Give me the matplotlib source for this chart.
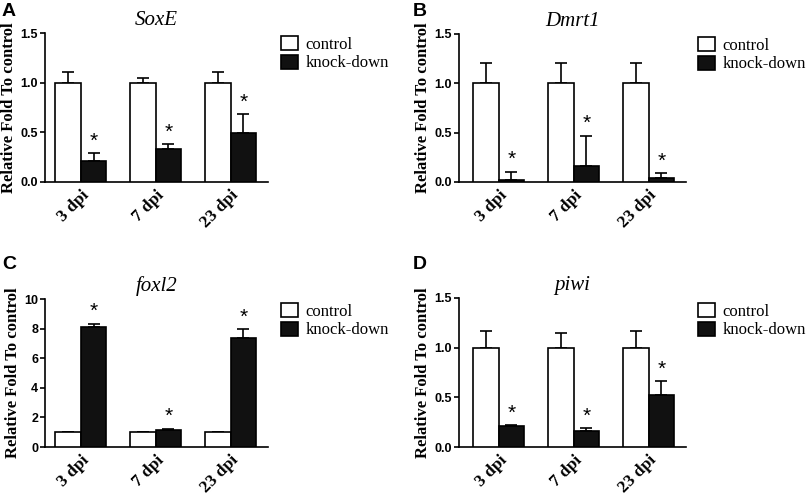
import numpy as np
import matplotlib
matplotlib.use("Agg")
import matplotlib.pyplot as plt

#------------------------------------
# Data
#------------------------------------

days = ["3 dpi", "7 dpi", "23 dpi"]
series = ["control", "knock-down"]

soxe_ctrl = [1.0, 1.0, 1.0]
soxe_ctrl_err = [0.11, 0.05, 0.11]
soxe_kd = [0.21, 0.33, 0.49]
soxe_kd_err = [0.08, 0.05, 0.19]

dmrt1_ctrl = [1.0, 1.0, 1.0]
dmrt1_ctrl_err = [0.21, 0.21, 0.21]
dmrt1_kd = [0.02, 0.16, 0.045]
dmrt1_kd_err = [0.085, 0.31, 0.045]

foxl2_ctrl = [1.0, 1.0, 1.0]
foxl2_ctrl_err = [0.03, 0.03, 0.03]
foxl2_kd = [8.08, 1.15, 7.38]
foxl2_kd_err = [0.25, 0.06, 0.58]

piwi_ctrl = [1.0, 1.0, 1.0]
piwi_ctrl_err = [0.17, 0.15, 0.17]
piwi_kd = [0.21, 0.165, 0.52]
piwi_kd_err = [0.01, 0.025, 0.14]

#------------------------------------
# Layout
#------------------------------------

W, H = 809, 496
serif = "Liberation Serif"
sans = "Liberation Sans"

panels = [
    # letter, gene, ctrl, ctrl_err, kd, kd_err, ymax, yticks, axes box (px), xlo, legend (px), letter (px)
    ("A", "SoxE", soxe_ctrl, soxe_ctrl_err, soxe_kd, soxe_kd_err, 1.5,
     [0.0, 0.5, 1.0, 1.5], (45, 268, 33, 182), -0.48, (281, 36), (2, 3)),
    ("B", "Dmrt1", dmrt1_ctrl, dmrt1_ctrl_err, dmrt1_kd, dmrt1_kd_err, 1.5,
     [0.0, 0.5, 1.0, 1.5], (459, 686, 34, 182), -0.53, (698, 37), (413, 3)),
    ("C", "foxl2", foxl2_ctrl, foxl2_ctrl_err, foxl2_kd, foxl2_kd_err, 10,
     [0, 2, 4, 6, 8, 10], (45, 268, 299, 447), -0.48, (281, 303), (2, 256)),
    ("D", "piwi", piwi_ctrl, piwi_ctrl_err, piwi_kd, piwi_kd_err, 1.5,
     [0.0, 0.5, 1.0, 1.5], (459, 686, 298, 447), -0.53, (698, 303), (413, 256)),
]

fig = plt.figure(figsize=(W / 100, H / 100), dpi=100)

x = np.arange(len(days))
bw = 0.34
lw = 1.2

for letter, gene, ctrl, ctrl_err, kd, kd_err, ymax, yticks, box, xlo, leg, lab in panels:
    l, r, t, b = box
    ax = fig.add_axes([l / W, 1 - b / H, (r - l) / W, (b - t) / H])

    xc = x - bw / 2
    xk = x + bw / 2
    ax.bar(xc, ctrl, bw, color="white", edgecolor="black", linewidth=lw,
           label=series[0], zorder=3)
    ax.bar(xk, kd, bw, color="#111111", edgecolor="black", linewidth=lw,
           label=series[1], zorder=3)
    ax.errorbar(xc, ctrl, yerr=[np.zeros(3), ctrl_err], fmt="none",
                ecolor="black", elinewidth=lw, capsize=4.5, capthick=lw, zorder=2)
    ax.errorbar(xk, kd, yerr=[np.zeros(3), kd_err], fmt="none",
                ecolor="black", elinewidth=lw, capsize=4.5, capthick=lw, zorder=2)

    # significance marks
    for xi, v, e in zip(xk, kd, kd_err):
        ax.annotate("*", xy=(xi, v + e), xytext=(0, 2), textcoords="offset points",
                    ha="center", va="bottom", fontsize=15, family=sans)

    ax.set_xlim(xlo, 2.5)
    ax.set_ylim(0, ymax)
    ax.set_yticks(yticks)
    if ymax == 10:
        ax.set_yticklabels([str(v) for v in yticks])
    else:
        ax.set_yticklabels(["%.1f" % v for v in yticks])
    ax.set_xticks(x)
    ax.set_xticklabels(days, rotation=45, ha="right", rotation_mode="anchor",
                       family=serif, fontweight="bold", fontsize=12.5)

    for s in ["top", "right"]:
        ax.spines[s].set_visible(False)
    for s in ["left", "bottom"]:
        ax.spines[s].set_linewidth(lw)
    ax.tick_params(axis="y", length=3.5, width=lw, labelsize=9, pad=1.5)
    ax.tick_params(axis="x", length=0, pad=4)
    for tl in ax.get_yticklabels():
        tl.set_family(sans)
        tl.set_fontweight("bold")

    ax.set_ylabel("Relative Fold To control", family=serif, fontweight="bold",
                  fontsize=12, labelpad=2.5)
    ax.set_title(gene, family=serif, style="italic", fontsize=15, pad=6)

    ax.legend(loc="upper left", bbox_to_anchor=(leg[0] / W, 1 - leg[1] / H),
              bbox_transform=fig.transFigure, frameon=False, borderpad=0,
              borderaxespad=0, handlelength=1.0, handleheight=0.9,
              handletextpad=0.45, labelspacing=0.12,
              prop={"family": serif, "size": 12})

    fig.text(lab[0] / W, 1 - lab[1] / H, letter, family=sans, fontweight="bold",
             fontsize=14, ha="left", va="top")

fig.savefig("out.png", dpi=100)
